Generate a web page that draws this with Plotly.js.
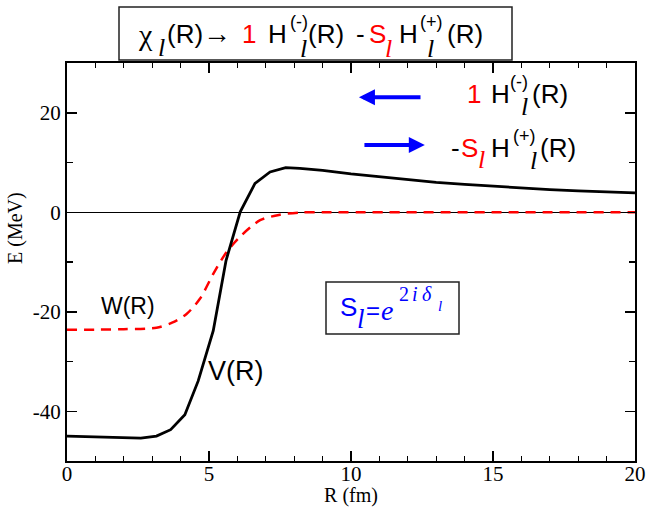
<!DOCTYPE html>
<html>
<head>
<meta charset="utf-8">
<script src="https://cdn.plot.ly/plotly-3.0.1.min.js"></script>
<style>html,body{margin:0;padding:0;background:#fff;}</style>
</head>
<body>
<div id="chart" style="width:649px;height:507px;"></div>
<script>
// ---- data ----
const vR_x = [0, 1, 2, 2.6, 3.15, 3.65, 4.15, 4.62, 5.15, 5.6, 6.1, 6.62, 7.15, 7.7, 8.2, 9, 10, 11, 12, 13, 14, 15, 16, 17, 18, 19, 20];
const vR_y = [-45.0, -45.1, -45.3, -45.4, -45.0, -43.7, -40.7, -33.9, -23.8, -9.7, 0.1, 5.8, 8.1, 8.95, 8.8, 8.4, 7.7, 7.1, 6.5, 6.0, 5.6, 5.2, 4.85, 4.55, 4.3, 4.1, 3.9];
const wR_x = [0, 1, 2, 3.15, 3.7, 4.2, 4.68, 5.15, 5.62, 6.15, 6.8, 7.5, 8.2, 9, 20];
const wR_y = [-23.6, -23.6, -23.5, -23.2, -22.2, -20.5, -17.4, -12.4, -8.0, -4.6, -1.6, -0.5, -0.05, 0, 0];
const xTickVals = [0, 5, 10, 15, 20];
const yTickVals = [-40, -20, 0, 20];
const arrowLeft = {head: [10.28, 23.1], tail: [12.5, 23.1]};
const arrowRight = {head: [12.6, 13.5], tail: [10.42, 13.5]};

// ---- layout helpers (pixel -> paper) ----
const L = 67, R = 635, T = 63, B = 461;
const W = 649, H = 507;
const px = p => (p - L) / (R - L);
const py = p => (B - p) / (B - T);
const SANS = '"Liberation Sans", Arial, sans-serif';
const SERIF = '"Liberation Serif", "Times New Roman", serif';
const RED = '#ff0000', BLUE = '#0000ff', BLACK = '#000000';

function piece(text, left, cy, size, color, family) {
  return {
    text: text, xref: 'paper', yref: 'paper', x: px(left - 2), y: py(cy),
    xanchor: 'left', yanchor: 'middle', showarrow: false, borderpad: 0,
    font: {family: family || SANS, size: size, color: color || BLACK}
  };
}
const it = s => '<i>' + s + '</i>';

const ann = [];
// title box pieces
const tc = 34;
ann.push(piece('χ', 139, 35, 30, BLACK, SERIF));
ann.push(piece(it('l'), 159, 47, 26, BLACK, SERIF));
ann.push(piece('(R)', 168, tc, 26));
ann.push(piece('→', 204, tc, 28, BLACK, SERIF));
ann.push(piece('1', 243, tc, 26, RED));
ann.push(piece('H', 269, tc, 26));
ann.push(piece('(-)', 291, 22, 18));
ann.push(piece(it('l'), 301, 48, 26, BLACK, SERIF));
ann.push(piece('(R)', 309, tc, 26));
ann.push(piece('-', 357, tc, 26));
ann.push(piece('S', 370, tc, 26, RED));
ann.push(piece(it('l'), 386, 48, 26, RED, SERIF));
ann.push(piece('H', 400, tc, 26));
ann.push(piece('(+)', 421, 22, 18));
ann.push(piece(it('l'), 428, 48, 26, BLACK, SERIF));
ann.push(piece('(R)', 448, tc, 26));

// right-hand labels
const c1 = 94;
ann.push(piece('1', 468, c1, 26, RED));
ann.push(piece('H', 492, c1, 26));
ann.push(piece('(-)', 511, 82, 18));
ann.push(piece(it('l'), 522, 106.5, 26, BLACK, SERIF));
ann.push(piece('(R)', 533, c1, 26));
const c2 = 147.5;
ann.push(piece('-', 452, c2, 26));
ann.push(piece('S', 462, c2, 26, RED));
ann.push(piece(it('l'), 479, 159, 26, RED, SERIF));
ann.push(piece('H', 492, c2, 26));
ann.push(piece('(+)', 514, 135.5, 18));
ann.push(piece(it('l'), 531, 160, 26, BLACK, SERIF));
ann.push(piece('(R)', 541, c2, 26));

// S_l box
ann.push(piece('S', 341, 306.5, 26, BLUE));
ann.push(piece(it('l'), 358, 318.5, 27, BLUE, SERIF));
ann.push(piece('=', 367, 310, 24, BLUE));
ann.push(piece(it('e'), 382, 310.5, 28, BLUE, SERIF));
ann.push(piece('2', 400, 294, 20, BLUE, SERIF));
ann.push(piece(it('i'), 413, 294, 20, BLUE, SERIF));
ann.push(piece(it('δ'), 423, 294, 20, BLUE, SERIF));
ann.push(piece(it('l'), 439, 306, 15, BLUE, SERIF));

// curve labels
ann.push(piece('W(R)', 102, 306, 23));
ann.push(piece('V(R)', 209, 371, 27));

// y-axis title (drawn as rotated text for exact placement)
ann.push({
  text: 'E (MeV)', xref: 'paper', yref: 'paper', x: px(16), y: py(228),
  xanchor: 'center', yanchor: 'middle', textangle: -90, showarrow: false,
  font: {family: SERIF, size: 20, color: BLACK}
});

// blue arrows
[arrowLeft, arrowRight].forEach(a => {
  ann.push({
    x: a.head[0], y: a.head[1], ax: a.tail[0], ay: a.tail[1],
    xref: 'x', yref: 'y', axref: 'x', ayref: 'y', text: '',
    showarrow: true, arrowhead: 2, arrowsize: 0.8, arrowwidth: 4,
    arrowcolor: BLUE, standoff: 0, startstandoff: 0
  });
});

const shapes = [
  {type: 'rect', xref: 'paper', yref: 'paper', x0: px(119), x1: px(512), y0: py(60), y1: py(7),
   line: {color: '#222', width: 1.5}, fillcolor: 'rgba(0,0,0,0)'},
  {type: 'rect', xref: 'paper', yref: 'paper', x0: px(326), x1: px(459), y0: py(334), y1: py(282),
   line: {color: '#222', width: 1.5}, fillcolor: 'rgba(0,0,0,0)'}
];

const traces = [
  {x: wR_x, y: wR_y, type: 'scatter', mode: 'lines', name: 'W(R)',
   line: {color: RED, width: 2.5, dash: '10px,7px', shape: 'spline', smoothing: 0.8}},
  {x: vR_x, y: vR_y, type: 'scatter', mode: 'lines', name: 'V(R)',
   line: {color: BLACK, width: 2.8}}
];

const axisCommon = {
  showline: true, linecolor: BLACK, linewidth: 2, mirror: 'allticks',
  ticks: 'inside', tickcolor: BLACK, tickwidth: 1.5, ticklen: 10,
  showgrid: false, tickfont: {family: SERIF, size: 21, color: BLACK}
};

const layout = {
  width: W, height: H,
  margin: {l: L, r: W - R, t: T, b: H - B, pad: 0},
  paper_bgcolor: '#fff', plot_bgcolor: '#fff',
  showlegend: false,
  xaxis: Object.assign({}, axisCommon, {
    range: [0, 20], tickvals: xTickVals, ticktext: xTickVals.map(String), zeroline: false,
    ticklabelstandoff: -7,
    minor: {dtick: 1, tick0: 0, ticks: 'inside', ticklen: 5, tickwidth: 1.2, tickcolor: BLACK, showgrid: false},
    title: {text: 'R (fm)', font: {family: SERIF, size: 20, color: BLACK}, standoff: 12}
  }),
  yaxis: Object.assign({}, axisCommon, {
    range: [-50, 30], tickvals: yTickVals, ticktext: yTickVals.map(String),
    zeroline: true, zerolinecolor: BLACK, zerolinewidth: 1,
    minor: {dtick: 10, tick0: 0, ticks: 'inside', ticklen: 6, tickwidth: 1.2, tickcolor: BLACK, showgrid: false}
  }),
  annotations: ann,
  shapes: shapes
};

Plotly.newPlot('chart', traces, layout, {staticPlot: true, displayModeBar: false});
</script>
</body>
</html>
